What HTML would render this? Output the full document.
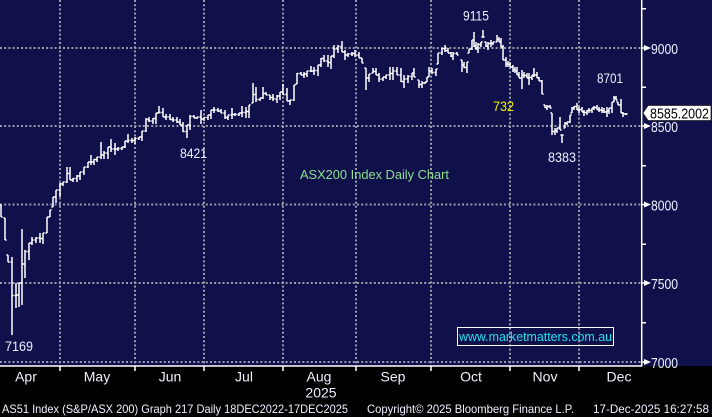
<!DOCTYPE html>
<html><head><meta charset="utf-8"><style>
html,body{margin:0;padding:0;background:#000;width:712px;height:417px;overflow:hidden}
svg{display:block}
text{font-family:"Liberation Sans",Arial,sans-serif}
</style></head><body>
<svg id="s" xmlns="http://www.w3.org/2000/svg" width="712" height="417" viewBox="0 0 712 417">
<rect width="712" height="417" fill="#000"/>
<rect width="712" height="366" fill="#10104b"/>
<g stroke="#9a9aa8" stroke-width="2" stroke-dasharray="2 2.2" fill="none">
<path d="M0 48H641M0 126H641M0 204.5H641M0 283H641M0 362H641"/>
<path d="M60 0V366M135 0V366M204 0V366M283 0V366M356 0V366M431 0V366M510 0V366M579 0V366"/>
</g>
<path id="bars" d="" stroke="#fff" stroke-width="1.5" fill="none"/>
<g stroke="#fff" stroke-width="1.5" fill="none">
<path d="M641.7 0V366.5M0 366H642"/>
<path d="M60 366V371M135 366V371M204 366V371M283 366V371M356 366V371M431 366V371M510 366V371M579 366V371"/>
<path d="M642 8.8H646M642 87.3H646M642 165.8H646M642 244.3H646M642 322.8H646"/>
<path d="M642 48H645M642 126H645M642 204.5H645M642 283H645M642 362H645"/>
</g>
<g fill="#fff">
<polygon points="644,45 651,48 644,51"/>
<polygon points="644,123 651,126 644,129"/>
<polygon points="644,201.5 651,204.5 644,207.5"/>
<polygon points="644,280 651,283 644,286"/>
<polygon points="644,359 651,362 644,365"/>
</g>
<g fill="#eef0ff" font-size="14.5">
<text x="651" y="54" textLength="27" lengthAdjust="spacingAndGlyphs">9000</text>
<text x="651" y="132" textLength="27" lengthAdjust="spacingAndGlyphs">8500</text>
<text x="651" y="210.5" textLength="27" lengthAdjust="spacingAndGlyphs">8000</text>
<text x="651" y="289" textLength="27" lengthAdjust="spacingAndGlyphs">7500</text>
<text x="651" y="368" textLength="27" lengthAdjust="spacingAndGlyphs">7000</text>
</g>
<polygon points="643,113 648,105.5 711,105.5 711,120.5 648,120.5" fill="#fff" stroke="#222" stroke-width="0.8"/>
<text x="650" y="118.5" font-size="14.5" fill="#000" textLength="59" lengthAdjust="spacingAndGlyphs">8585.2002</text>
<g fill="#eef0ff" font-size="14">
<text x="463" y="20.5" textLength="26" lengthAdjust="spacingAndGlyphs">9115</text>
<text x="597" y="83" textLength="26" lengthAdjust="spacingAndGlyphs">8701</text>
<text x="548" y="162" textLength="28" lengthAdjust="spacingAndGlyphs">8383</text>
<text x="180" y="158" textLength="27" lengthAdjust="spacingAndGlyphs">8421</text>
<text x="5" y="351" textLength="28" lengthAdjust="spacingAndGlyphs">7169</text>
</g>
<text x="493" y="111" font-size="14" fill="#f0f000" textLength="21" lengthAdjust="spacingAndGlyphs">732</text>
<text x="300" y="179" font-size="13" fill="#8fe08f" textLength="149" lengthAdjust="spacingAndGlyphs">ASX200 Index Daily Chart</text>
<rect x="457.5" y="327.5" width="156" height="18" fill="none" stroke="#fff" stroke-width="1"/>
<text x="459" y="341" font-size="13" fill="#1ee0f0" textLength="153" lengthAdjust="spacingAndGlyphs">www.marketmatters.com.au</text>
<g fill="#eef0ff" font-size="14" text-anchor="middle">
<text x="26" y="381.5">Apr</text>
<text x="97" y="381.5">May</text>
<text x="170" y="381.5">Jun</text>
<text x="244" y="381.5">Jul</text>
<text x="319" y="381.5">Aug</text>
<text x="393" y="381.5">Sep</text>
<text x="471" y="381.5">Oct</text>
<text x="545" y="381.5">Nov</text>
<text x="619" y="381.5">Dec</text>
<text x="321" y="397.5">2025</text>
</g>
<g fill="#eef0ff" font-size="12">
<text x="2" y="413" textLength="346" lengthAdjust="spacingAndGlyphs">AS51 Index (S&amp;P/ASX 200) Graph 217 Daily 18DEC2022-17DEC2025</text>
<text x="367" y="413" textLength="207" lengthAdjust="spacingAndGlyphs">Copyright© 2025 Bloomberg Finance L.P.</text>
<text x="593" y="413" textLength="116" lengthAdjust="spacingAndGlyphs">17-Dec-2025 16:27:58</text>
</g>
</svg>
<script>
var B=[[1,205,217],[5,218,240],[8,255,262],[12,257,335],[16,283,308],[19,283,307],[22,229,305],[25,250,278],[29,243,260],[32,237,245],[36,237,243],[40,233,243],[43,233,244],[47,217,233],[50,210,217],[53,197,207],[56,190,203],[60,183,197],[63,182,186],[67,167,183],[70,167,180],[73,178,182],[77,175,182],[80,172,180],[84,167,175],[88,162,168],[91,155,165],[94,159,165],[97,157,162],[101,142,159],[104,151,159],[108,147,159],[111,139,152],[115,143,155],[118,147,151],[122,147,150],[125,141,148],[128,134,143],[132,138,143],[135,137,144],[139,137,140],[142,131,141],[146,118,132],[149,117,122],[153,118,124],[156,113,124],[159,106,113],[163,108,117],[166,114,120],[170,114,120],[173,117,122],[177,117,123],[180,119,125],[183,122,132],[187,125,138],[190,115,130],[194,115,118],[197,117,119],[201,110,124],[204,117,121],[208,115,120],[211,110,119],[214,107,113],[218,108,112],[221,109,113],[225,110,119],[228,115,120],[232,108,119],[235,113,116],[239,113,116],[242,106,117],[246,107,118],[249,105,118],[253,83,103],[256,87,102],[260,98,101],[263,87,99],[266,92,95],[270,95,100],[273,94,101],[277,95,103],[280,92,100],[283,84,95],[287,88,101],[290,100,105],[294,85,101],[297,73,84],[301,72,75],[304,72,78],[307,71,77],[311,66,72],[314,67,75],[318,65,76],[321,58,67],[324,55,62],[328,55,67],[331,56,69],[334,45,58],[338,45,53],[342,41,52],[345,50,60],[348,53,57],[352,52,56],[355,50,57],[359,52,58],[362,58,63],[366,68,90],[369,74,82],[373,68,73],[376,68,75],[379,73,82],[383,77,81],[386,75,79],[390,67,80],[393,67,80],[397,67,75],[401,68,82],[404,75,88],[408,75,83],[412,73,80],[414,68,77],[419,80,88],[422,81,88],[425,82,84],[427,77,82],[429,67,77],[432,68,74],[436,69,76],[438,53,64],[442,48,55],[445,45,52],[448,48,53],[451,52,57],[453,52,60],[457,52,55],[462,60,72],[464,62,68],[467,62,73],[469,49,53],[472,40,50],[474,32,47],[476,42,50],[478,43,53],[481,42,47],[483,30,37],[486,42,47],[488,42,50],[491,40,47],[493,42,45],[497,35,42],[499,37,42],[501,38,47],[503,45,60],[506,57,67],[508,61,67],[510,62,67],[513,65,72],[515,67,73],[517,67,75],[519,72,78],[522,70,89],[524,72,78],[527,73,78],[529,73,85],[532,75,80],[534,68,77],[537,72,78],[539,77,81],[542,80,94],[545,105,108],[547,105,110],[550,105,108],[552,113,135],[555,128,135],[557,128,133],[560,117,130],[562,135,143],[565,122,128],[567,122,125],[570,115,123],[572,107,113],[574,106,110],[577,103,110],[579,107,113],[582,107,112],[584,110,116],[587,110,115],[589,108,113],[592,108,113],[594,106,110],[597,105,110],[599,107,112],[602,107,113],[604,108,113],[607,107,117],[609,108,114],[612,102,113],[614,96,102],[616,96,100],[618,102,105],[621,99,113],[623,112,117],[626,113,115]];
function cl(v,a,b){return Math.max(a,Math.min(b,v));}
var d="",pc=null;
for(var i=0;i<B.length;i++){var x=B[i][0],t=B[i][1],b=B[i][2];
var o=pc===null?t:cl(pc,t,b);
var n=i+1<B.length?(B[i+1][1]+B[i+1][2])/2:(t+b)/2;
var c=cl(n,t,b);
d+="M"+x+" "+t+"V"+b+"M"+(x-1.6)+" "+o+"H"+x+"M"+x+" "+c+"H"+(x+1.6);
pc=c;}
document.getElementById("bars").setAttribute("d",d);
</script>
</body></html>
